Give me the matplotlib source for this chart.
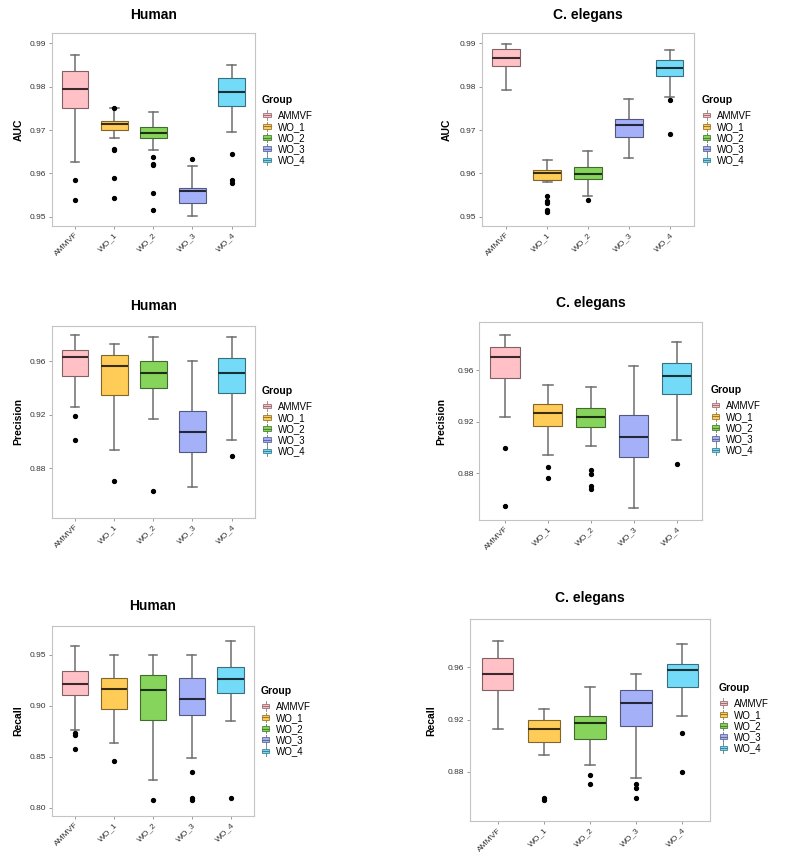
import matplotlib
matplotlib.use("Agg")
import matplotlib.pyplot as plt
from matplotlib.patches import Rectangle, Patch
from matplotlib.lines import Line2D
from matplotlib.legend_handler import HandlerBase
import matplotlib.colors as mcolors
import numpy as np

plt.rcParams['font.family'] = ['Liberation Sans', 'DejaVu Sans']

groups = ["AMMVF", "WO_1", "WO_2", "WO_3", "WO_4"]
fill_colors = ["#FFC1C6", "#FFCC57", "#86D45B", "#A4B1F8", "#73DBF7"]

# ---- Human AUC ----
human_auc_lo = [0.9626, 0.9682, 0.9655, 0.9501, 0.9695]
human_auc_q1 = [0.9752, 0.9700, 0.9682, 0.9531, 0.9756]
human_auc_med = [0.9795, 0.9714, 0.9693, 0.9559, 0.9788]
human_auc_q3 = [0.9835, 0.9720, 0.9706, 0.9567, 0.9819]
human_auc_hi = [0.9872, 0.9752, 0.9742, 0.9618, 0.9849]
human_auc_out = [[0.9585, 0.9539], [0.9752, 0.9657, 0.9653, 0.9589, 0.9544],
                 [0.9639, 0.9622, 0.9619, 0.9555, 0.9515], [0.9634],
                 [0.9645, 0.9585, 0.9579]]

# ---- C. elegans AUC ----
celegans_auc_lo = [0.9792, 0.9581, 0.9549, 0.9635, 0.9776]
celegans_auc_q1 = [0.9847, 0.9585, 0.9587, 0.9685, 0.9825]
celegans_auc_med = [0.9867, 0.9602, 0.9598, 0.9711, 0.9842]
celegans_auc_q3 = [0.9887, 0.9607, 0.9616, 0.9725, 0.9862]
celegans_auc_hi = [0.9899, 0.9630, 0.9652, 0.9771, 0.9884]
celegans_auc_out = [[], [0.9547, 0.9537, 0.9532, 0.9515, 0.9512], [0.9539], [],
                    [0.9769, 0.9690]]

# ---- Human Precision ----
human_prec_lo = [0.9260, 0.8934, 0.9165, 0.8663, 0.9009]
human_prec_q1 = [0.9491, 0.9344, 0.9396, 0.8919, 0.9362]
human_prec_med = [0.9627, 0.9565, 0.9508, 0.9073, 0.9513]
human_prec_q3 = [0.9682, 0.9647, 0.9603, 0.9227, 0.9625]
human_prec_hi = [0.9791, 0.9727, 0.9779, 0.9603, 0.9781]
human_prec_out = [[0.9193, 0.9014], [0.8703], [0.8631], [], [0.8892]]

# ---- C. elegans Precision ----
celegans_prec_lo = [0.9236, 0.8940, 0.9008, 0.8525, 0.9057]
celegans_prec_q1 = [0.9538, 0.9164, 0.9161, 0.8922, 0.9416]
celegans_prec_med = [0.9704, 0.9265, 0.9234, 0.9078, 0.9558]
celegans_prec_q3 = [0.9779, 0.9340, 0.9304, 0.9249, 0.9657]
celegans_prec_hi = [0.9873, 0.9483, 0.9473, 0.9636, 0.9818]
celegans_prec_out = [[0.8992, 0.8546], [0.8847, 0.8764],
                     [0.8824, 0.8790, 0.8701, 0.8676], [], [0.8868]]

# ---- Human Recall ----
human_rec_lo = [0.8766, 0.8633, 0.8271, 0.8492, 0.8854]
human_rec_q1 = [0.9102, 0.8965, 0.8858, 0.8910, 0.9128]
human_rec_med = [0.9216, 0.9164, 0.9151, 0.9066, 0.9259]
human_rec_q3 = [0.9337, 0.9272, 0.9304, 0.9272, 0.9383]
human_rec_hi = [0.9582, 0.9497, 0.9497, 0.9497, 0.9637]
human_rec_out = [[0.8734, 0.8717, 0.8577], [0.8463], [0.8075],
                 [0.8352, 0.8095, 0.8075], [0.8098]]

# ---- C. elegans Recall ----
celegans_rec_lo = [0.9126, 0.8927, 0.8854, 0.8752, 0.9226]
celegans_rec_q1 = [0.9427, 0.9027, 0.9052, 0.9152, 0.9452]
celegans_rec_med = [0.9549, 0.9129, 0.9177, 0.9327, 0.9577]
celegans_rec_q3 = [0.9674, 0.9200, 0.9226, 0.9424, 0.9623]
celegans_rec_hi = [0.9799, 0.9279, 0.9450, 0.9549, 0.9776]
celegans_rec_out = [[], [0.8599, 0.8583], [0.8780, 0.8706],
                    [0.8706, 0.8678, 0.8604], [0.9101, 0.8803]]

W, H = 787, 859
fig = plt.figure(figsize=(W / 100, H / 100), dpi=100)


def shade(c, f):
    r = np.array(mcolors.to_rgb(c)) * f
    return tuple(r)


class BoxHandler(HandlerBase):
    def create_artists(self, legend, orig_handle, xdescent, ydescent,
                       width, height, fontsize, trans):
        fc = orig_handle.get_facecolor()
        ec = orig_handle.get_edgecolor()
        w = width * 0.75
        x0 = -xdescent + (width - w) / 2
        h = height * 0.62
        y0 = -ydescent + (height - h) / 2
        cx = -xdescent + width / 2
        line = Line2D([cx, cx], [-ydescent - height * 0.15, -ydescent + height * 1.15],
                      color=ec, lw=0.6, transform=trans)
        rect = Rectangle((x0, y0), w, h, facecolor=fc, edgecolor=ec, lw=0.6,
                         transform=trans)
        med = Line2D([x0, x0 + w], [y0 + h / 2] * 2, color=ec, lw=0.8, transform=trans)
        return [line, rect, med]


panels = [
    dict(box=(51.7, 33.3, 255, 226), ylim=(0.9479, 0.9923),
         ticks=[0.95, 0.96, 0.97, 0.98, 0.99], fmt="{:.2f}", ylabel="AUC", ylabx=19,
         title="Human", titley=15, leg=(262, 95),
         data=(human_auc_lo, human_auc_q1, human_auc_med, human_auc_q3, human_auc_hi, human_auc_out)),
    dict(box=(481.7, 33.3, 694, 226), ylim=(0.9479, 0.9923),
         ticks=[0.95, 0.96, 0.97, 0.98, 0.99], fmt="{:.2f}", ylabel="AUC", ylabx=446.7,
         title="C. elegans", titley=15, leg=(701.7, 95),
         data=(celegans_auc_lo, celegans_auc_q1, celegans_auc_med, celegans_auc_q3, celegans_auc_hi, celegans_auc_out)),
    dict(box=(51.7, 326, 255, 517.7), ylim=(0.84323, 0.98609),
         ticks=[0.88, 0.92, 0.96], fmt="{:.2f}", ylabel="Precision", ylabx=18.3,
         title="Human", titley=306, leg=(262, 386),
         data=(human_prec_lo, human_prec_q1, human_prec_med, human_prec_q3, human_prec_hi, human_prec_out)),
    dict(box=(479.3, 322.3, 702.3, 520), ylim=(0.8434, 0.9974),
         ticks=[0.88, 0.92, 0.96], fmt="{:.2f}", ylabel="Precision", ylabx=441.7,
         title="C. elegans", titley=302.7, leg=(710.7, 385),
         data=(celegans_prec_lo, celegans_prec_q1, celegans_prec_med, celegans_prec_q3, celegans_prec_hi, celegans_prec_out)),
    dict(box=(51.7, 625.7, 254, 816), ylim=(0.79217, 0.97837),
         ticks=[0.80, 0.85, 0.90, 0.95], fmt="{:.2f}", ylabel="Recall", ylabx=18.3,
         title="Human", titley=606, leg=(260.7, 686),
         data=(human_rec_lo, human_rec_q1, human_rec_med, human_rec_q3, human_rec_hi, human_rec_out)),
    dict(box=(470, 619.3, 710, 821.3), ylim=(0.84229, 0.99669),
         ticks=[0.88, 0.92, 0.96], fmt="{:.2f}", ylabel="Recall", ylabx=431.7,
         title="C. elegans", titley=598.3, leg=(718.3, 683),
         data=(celegans_rec_lo, celegans_rec_q1, celegans_rec_med, celegans_rec_q3, celegans_rec_hi, celegans_rec_out)),
]

for p in panels:
    x0, y0, x1, y1 = p["box"]
    ax = fig.add_axes([x0 / W, 1 - y1 / H, (x1 - x0) / W, (y1 - y0) / H])
    lo, q1, med, q3, hi, out = p["data"]
    stats = [dict(whislo=lo[i], q1=q1[i], med=med[i], q3=q3[i], whishi=hi[i],
                  fliers=out[i], label=groups[i]) for i in range(len(groups))]
    pos = np.arange(1, len(groups) + 1)
    bp = ax.bxp(stats, positions=pos, widths=0.68, capwidths=0.22, patch_artist=True,
                showfliers=True,
                boxprops=dict(linewidth=0.8),
                medianprops=dict(color="#111111", linewidth=1.5, solid_capstyle="butt"),
                whiskerprops=dict(color="#6E6E6E", linewidth=1.1),
                capprops=dict(color="#6E6E6E", linewidth=1.1),
                flierprops=dict(marker="o", markerfacecolor="black",
                                markeredgecolor="black", markersize=2.8, linestyle="none"))
    for i, b in enumerate(bp["boxes"]):
        b.set_facecolor(fill_colors[i])
        b.set_edgecolor(shade(fill_colors[i], 0.5))
        b.set_zorder(3)
    for i, m in enumerate(bp["medians"]):
        m.set_color(shade(fill_colors[i], 0.22))
        m.set_zorder(4)
    ax.set_xlim(0.4, 5.6)
    ax.set_ylim(*p["ylim"])
    ax.set_yticks(p["ticks"])
    ax.set_yticklabels([p["fmt"].format(t) for t in p["ticks"]])
    ax.set_xticks(pos)
    ax.set_xticklabels(groups, rotation=45, ha="right", rotation_mode="anchor")
    ax.tick_params(axis="both", labelsize=6, colors="#333333", length=2.5, width=0.6,
                   color="#8C8C8C", pad=1.5)
    for s in ax.spines.values():
        s.set_color("#C4C4C4")
        s.set_linewidth(0.8)
    ax.set_facecolor("white")

    fig.text(((x0 + x1) / 2) / W, 1 - p["titley"] / H, p["title"], ha="center",
             va="center", fontsize=10, fontweight="bold")
    fig.text(p["ylabx"] / W, 1 - ((y0 + y1) / 2) / H, p["ylabel"], ha="center",
             va="center", rotation=90, fontsize=7.5, fontweight="bold")

    handles = [Patch(facecolor=fill_colors[i], edgecolor=shade(fill_colors[i], 0.6),
                     label=groups[i]) for i in range(len(groups))]
    lx, ly = p["leg"]
    leg = ax.legend(handles=handles, title="Group", loc="upper left",
                    bbox_to_anchor=(lx / W, 1 - ly / H), bbox_transform=fig.transFigure,
                    frameon=False, fontsize=7, borderpad=0, borderaxespad=0,
                    handlelength=1.0, handleheight=0.8, handletextpad=0.6,
                    labelspacing=0.12, alignment="left",
                    title_fontproperties=dict(weight="bold", size=7.5),
                    handler_map={Patch: BoxHandler()})
    leg._legend_box.sep = 4

fig.savefig("out.png", dpi=100, facecolor="white")
